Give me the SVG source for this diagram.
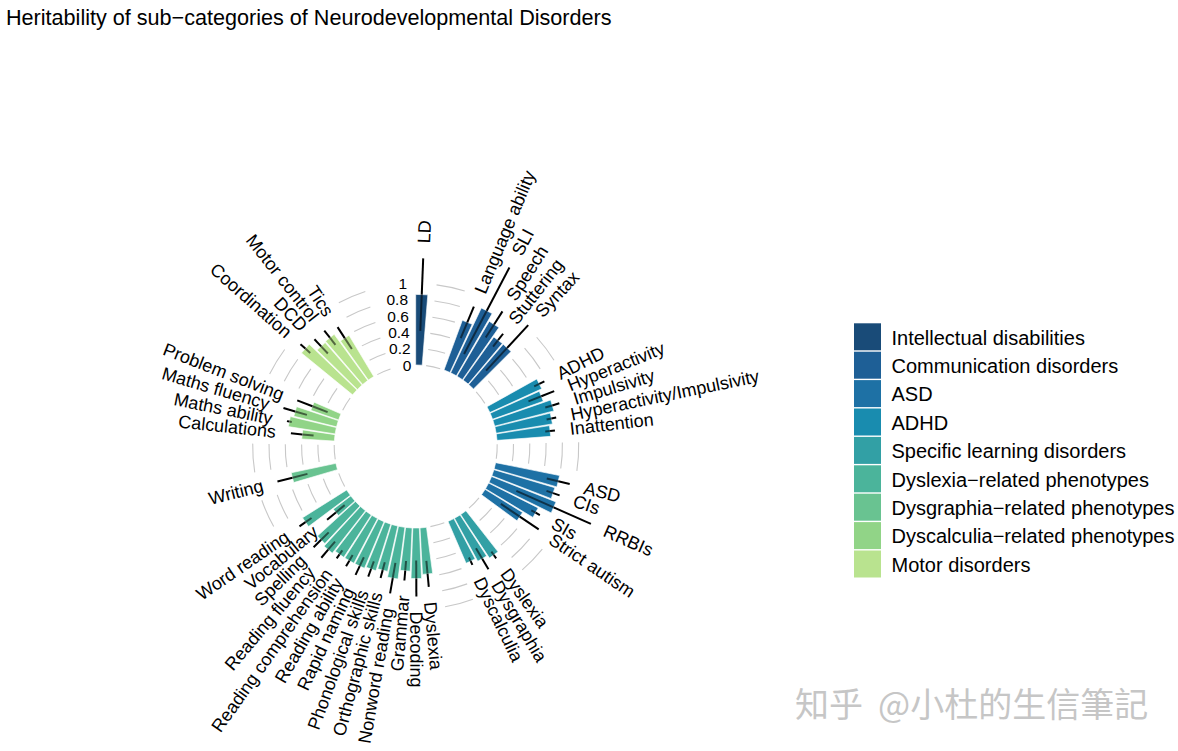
<svg xmlns="http://www.w3.org/2000/svg" width="1178" height="751" viewBox="0 0 1178 751">
<style>
text{font-family:"Liberation Sans",Arial,sans-serif;fill:#000}
.title{font-size:21.6px}
.lab{font-size:18px}
.ax{font-size:15.5px;text-anchor:end}
.leg{font-size:20px}
.bar{stroke:#fff;stroke-width:0.6}
.ei{stroke:#000;stroke-opacity:0.55;stroke-width:2;fill:none}
.eo{stroke:#000;stroke-width:2;fill:none}
.grid path{fill:none;stroke:#c8c8c8;stroke-width:1.1}
.c1{fill:#194b78}.c2{fill:#1e5f96}.c3{fill:#1e71a5}.c4{fill:#198caf}.c5{fill:#32a0a5}
.c6{fill:#4bb49b}.c7{fill:#69c391}.c8{fill:#91d487}.c9{fill:#b9e38f}
.wm{font-family:"Noto Sans CJK SC","Noto Sans CJK TC",sans-serif;font-size:34px;fill:#c6c6c6}
</style>
<defs>
<g id="garc" class="grid">
<path d="M0,-81.5 A81.5,81.5 0 0 1 14.349,-80.227"/>
<path d="M0,-97.8 A97.8,97.8 0 0 1 17.219,-96.272"/>
<path d="M0,-114.1 A114.1,114.1 0 0 1 20.088,-112.318"/>
<path d="M0,-130.4 A130.4,130.4 0 0 1 22.958,-128.363"/>
<path d="M0,-146.7 A146.7,146.7 0 0 1 25.828,-144.409"/>
<path d="M0,-163 A163,163 0 0 1 28.698,-160.454"/>
</g>
</defs>
<rect width="1178" height="751" fill="#fff"/>
<text class="title" x="6" y="24.5">Heritability of sub−categories of Neurodevelopmental Disorders</text>

<g id="gridlines">
<use href="#garc" transform="translate(415.7 446.5) rotate(7.3521)"/>
<use href="#garc" transform="translate(415.7 446.5) rotate(47.9155)"/>
<use href="#garc" transform="translate(415.7 446.5) rotate(88.4789)"/>
<use href="#garc" transform="translate(415.7 446.5) rotate(129.0423)"/>
<use href="#garc" transform="translate(415.7 446.5) rotate(159.4648)"/>
<use href="#garc" transform="translate(415.7 446.5) rotate(240.5916)"/>
<use href="#garc" transform="translate(415.7 446.5) rotate(260.8733)"/>
<use href="#garc" transform="translate(415.7 446.5) rotate(296.3662)"/>
<use href="#garc" transform="translate(415.7 446.5) rotate(331.8592)"/>
</g>

<g id="axis-labels">
<text class="ax" x="411.44" y="365.11" dy="0.35em">0</text>
<text class="ax" x="410.58" y="348.84" dy="0.35em">0.2</text>
<text class="ax" x="409.73" y="332.56" dy="0.35em">0.4</text>
<text class="ax" x="408.88" y="316.28" dy="0.35em">0.6</text>
<text class="ax" x="408.03" y="300.0" dy="0.35em">0.8</text>
<text class="ax" x="407.17" y="283.73" dy="0.35em">1</text>
</g>

<g id="bars">
<g id="bar-LD" transform="translate(415.7 446.5) rotate(2.2817)">
<polygon class="bar c1" points="-3.248,-81.5 -6.057,-152 6.057,-152 3.248,-81.5"/>
<path class="ei" d="M0,-115.73V-152"/><path class="eo" d="M0,-152V-188.27"/>
<text class="lab" transform="translate(0 -203.3) rotate(-90)" dy="0.35em">LD</text>
</g>

<g id="bar-language-ability" transform="translate(415.7 446.5) rotate(22.5634)">
<polygon class="bar c2" points="-3.248,-81.5 -5.359,-134.48 5.359,-134.48 3.248,-81.5"/>
<path class="ei" d="M0,-117.36V-134.48"/><path class="eo" d="M0,-134.48V-151.59"/>
<text class="lab" transform="translate(0 -166.6) rotate(-90)" dy="0.35em">Language ability</text>
</g>
<g id="bar-SLI" transform="translate(415.7 446.5) rotate(27.6338)">
<polygon class="bar c2" points="-3.248,-81.5 -6.106,-153.22 6.106,-153.22 3.248,-81.5"/>
<path class="ei" d="M0,-104.32V-153.22"/><path class="eo" d="M0,-153.22V-202.12"/>
<text class="lab" transform="translate(0 -217.1) rotate(-90)" dy="0.35em">SLI</text>
</g>
<g id="bar-speech" transform="translate(415.7 446.5) rotate(32.7042)">
<polygon class="bar c2" points="-3.248,-81.5 -5.781,-145.07 5.781,-145.07 3.248,-81.5"/>
<path class="ei" d="M0,-129.59V-145.07"/><path class="eo" d="M0,-145.07V-160.56"/>
<text class="lab" transform="translate(0 -175.6) rotate(-90)" dy="0.35em">Speech</text>
</g>
<g id="bar-stuttering" transform="translate(415.7 446.5) rotate(37.7746)">
<polygon class="bar c2" points="-3.248,-81.5 -5.359,-134.48 5.359,-134.48 3.248,-81.5"/>
<path class="ei" d="M0,-126.33V-134.48"/><path class="eo" d="M0,-134.48V-142.63"/>
<text class="lab" transform="translate(0 -157.6) rotate(-90)" dy="0.35em">Stuttering</text>
</g>
<g id="bar-syntax" transform="translate(415.7 446.5) rotate(42.8451)">
<polygon class="bar c2" points="-3.248,-81.5 -5.359,-134.48 5.359,-134.48 3.248,-81.5"/>
<path class="ei" d="M0,-103.51V-134.48"/><path class="eo" d="M0,-134.48V-165.45"/>
<text class="lab" transform="translate(0 -180.5) rotate(-90)" dy="0.35em">Syntax</text>
</g>

<g id="bar-ADHD" transform="translate(415.7 446.5) rotate(63.1268)">
<polygon class="bar c4" points="-3.248,-81.5 -5.521,-138.55 5.521,-138.55 3.248,-81.5"/>
<path class="ei" d="M0,-132.85V-138.55"/><path class="eo" d="M0,-138.55V-144.26"/>
<text class="lab" transform="translate(0 -159.3) rotate(-90)" dy="0.35em">ADHD</text>
</g>
<g id="bar-hyperactivity" transform="translate(415.7 446.5) rotate(68.1972)">
<polygon class="bar c4" points="-3.248,-81.5 -5.391,-135.29 5.391,-135.29 3.248,-81.5"/>
<path class="ei" d="M0,-121.44V-135.29"/><path class="eo" d="M0,-135.29V-149.15"/>
<text class="lab" transform="translate(0 -164.1) rotate(-90)" dy="0.35em">Hyperactivity</text>
</g>
<g id="bar-impulsivity" transform="translate(415.7 446.5) rotate(73.2676)">
<polygon class="bar c4" points="-3.248,-81.5 -5.684,-142.63 5.684,-142.63 3.248,-81.5"/>
<path class="ei" d="M0,-135.29V-142.63"/><path class="eo" d="M0,-142.63V-149.96"/>
<text class="lab" transform="translate(0 -165.0) rotate(-90)" dy="0.35em">Impulsivity</text>
</g>
<g id="bar-hyperactivity-impulsivity" transform="translate(415.7 446.5) rotate(78.338)">
<polygon class="bar c4" points="-3.248,-81.5 -5.521,-138.55 5.521,-138.55 3.248,-81.5"/>
<path class="ei" d="M0,-133.66V-138.55"/><path class="eo" d="M0,-138.55V-143.44"/>
<text class="lab" transform="translate(0 -158.4) rotate(-90)" dy="0.35em">Hyperactivity/Impulsivity</text>
</g>
<g id="bar-inattention" transform="translate(415.7 446.5) rotate(83.4085)">
<polygon class="bar c4" points="-3.248,-81.5 -5.391,-135.29 5.391,-135.29 3.248,-81.5"/>
<path class="ei" d="M0,-130.4V-135.29"/><path class="eo" d="M0,-135.29V-140.18"/>
<text class="lab" transform="translate(0 -155.2) rotate(-90)" dy="0.35em">Inattention</text>
</g>

<g id="bar-ASD" transform="translate(415.7 446.5) rotate(103.6901)">
<polygon class="bar c3" points="-3.248,-81.5 -5.846,-146.7 5.846,-146.7 3.248,-81.5"/>
<path class="ei" d="M0,-134.88V-146.7"/><path class="eo" d="M0,-146.7V-158.52"/>
<text class="lab" transform="translate(0 -173.5) rotate(-90)" dy="0.35em">ASD</text>
</g>
<g id="bar-CIs" transform="translate(415.7 446.5) rotate(108.7606)">
<polygon class="bar c3" points="-3.248,-81.5 -5.781,-145.07 5.781,-145.07 3.248,-81.5"/>
<path class="ei" d="M0,-138.14V-145.07"/><path class="eo" d="M0,-145.07V-152"/>
<text class="lab" transform="translate(0 -167.0) rotate(-90)" dy="0.35em">CIs</text>
</g>
<g id="bar-RRBIs" transform="translate(415.7 446.5) rotate(113.831)">
<polygon class="bar c3" points="-3.248,-81.5 -6.009,-150.78 6.009,-150.78 3.248,-81.5"/>
<path class="ei" d="M0,-110.03V-150.78"/><path class="eo" d="M0,-150.78V-191.53"/>
<text class="lab" transform="translate(0 -206.5) rotate(-90)" dy="0.35em">RRBIs</text>
</g>
<g id="bar-SIs" transform="translate(415.7 446.5) rotate(118.9014)">
<polygon class="bar c3" points="-3.248,-81.5 -5.456,-136.92 5.456,-136.92 3.248,-81.5"/>
<path class="ei" d="M0,-132.03V-136.92"/><path class="eo" d="M0,-136.92V-141.81"/>
<text class="lab" transform="translate(0 -156.8) rotate(-90)" dy="0.35em">SIs</text>
</g>
<g id="bar-strict-autism" transform="translate(415.7 446.5) rotate(123.9718)">
<polygon class="bar c3" points="-3.248,-81.5 -5.002,-125.51 5.002,-125.51 3.248,-81.5"/>
<path class="ei" d="M0,-102.69V-125.51"/><path class="eo" d="M0,-125.51V-148.33"/>
<text class="lab" transform="translate(0 -163.3) rotate(-90)" dy="0.35em">Strict autism</text>
</g>

<g id="bar-sld-dyslexia" transform="translate(415.7 446.5) rotate(144.2535)">
<polygon class="bar c5" points="-3.248,-81.5 -5.326,-133.66 5.326,-133.66 3.248,-81.5"/>
<path class="ei" d="M0,-129.59V-133.66"/><path class="eo" d="M0,-133.66V-137.74"/>
<text class="lab" transform="translate(0 -152.7) rotate(-90)" dy="0.35em">Dyslexia</text>
</g>
<g id="bar-sld-dysgraphia" transform="translate(415.7 446.5) rotate(149.3239)">
<polygon class="bar c5" points="-3.248,-81.5 -5.196,-130.4 5.196,-130.4 3.248,-81.5"/>
<path class="ei" d="M0,-118.18V-130.4"/><path class="eo" d="M0,-130.4V-142.63"/>
<text class="lab" transform="translate(0 -157.6) rotate(-90)" dy="0.35em">Dysgraphia</text>
</g>
<g id="bar-sld-dyscalculia" transform="translate(415.7 446.5) rotate(154.3944)">
<polygon class="bar c5" points="-3.248,-81.5 -5.067,-127.14 5.067,-127.14 3.248,-81.5"/>
<path class="ei" d="M0,-123.07V-127.14"/><path class="eo" d="M0,-127.14V-131.22"/>
<text class="lab" transform="translate(0 -146.2) rotate(-90)" dy="0.35em">Dyscalculia</text>
</g>

<g id="bar-dr-dyslexia" transform="translate(415.7 446.5) rotate(174.6761)">
<polygon class="bar c6" points="-3.248,-81.5 -5.099,-127.96 5.099,-127.96 3.248,-81.5"/>
<path class="ei" d="M0,-114.92V-127.96"/><path class="eo" d="M0,-127.96V-141"/>
<text class="lab" transform="translate(0 -156.0) rotate(-90)" dy="0.35em">Dyslexia</text>
</g>
<g id="bar-decoding" transform="translate(415.7 446.5) rotate(179.7465)">
<polygon class="bar c6" points="-3.248,-81.5 -5.261,-132.03 5.261,-132.03 3.248,-81.5"/>
<path class="ei" d="M0,-114.1V-132.03"/><path class="eo" d="M0,-132.03V-149.96"/>
<text class="lab" transform="translate(0 -165.0) rotate(-90)" dy="0.35em">Decoding</text>
</g>
<g id="bar-grammar" transform="translate(415.7 446.5) rotate(184.8169)">
<polygon class="bar c6" points="-3.248,-81.5 -4.969,-124.7 4.969,-124.7 3.248,-81.5"/>
<path class="ei" d="M0,-114.92V-124.7"/><path class="eo" d="M0,-124.7V-134.48"/>
<text class="lab" text-anchor="end" transform="translate(0 -149.5) rotate(90)" dy="0.35em">Grammar</text>
</g>
<g id="bar-nonword-reading" transform="translate(415.7 446.5) rotate(189.8873)">
<polygon class="bar c6" points="-3.248,-81.5 -5.326,-133.66 5.326,-133.66 3.248,-81.5"/>
<path class="ei" d="M0,-118.18V-133.66"/><path class="eo" d="M0,-133.66V-149.15"/>
<text class="lab" text-anchor="end" transform="translate(0 -164.1) rotate(90)" dy="0.35em">Nonword reading</text>
</g>
<g id="bar-orthographic-skills" transform="translate(415.7 446.5) rotate(194.9577)">
<polygon class="bar c6" points="-3.248,-81.5 -5.099,-127.96 5.099,-127.96 3.248,-81.5"/>
<path class="ei" d="M0,-119.81V-127.96"/><path class="eo" d="M0,-127.96V-136.11"/>
<text class="lab" text-anchor="end" transform="translate(0 -151.1) rotate(90)" dy="0.35em">Orthographic skills</text>
</g>
<g id="bar-phonological-skills" transform="translate(415.7 446.5) rotate(200.0282)">
<polygon class="bar c6" points="-3.248,-81.5 -5.196,-130.4 5.196,-130.4 3.248,-81.5"/>
<path class="ei" d="M0,-122.25V-130.4"/><path class="eo" d="M0,-130.4V-138.55"/>
<text class="lab" text-anchor="end" transform="translate(0 -153.5) rotate(90)" dy="0.35em">Phonological skills</text>
</g>
<g id="bar-rapid-naming" transform="translate(415.7 446.5) rotate(205.0986)">
<polygon class="bar c6" points="-3.248,-81.5 -5.261,-132.03 5.261,-132.03 3.248,-81.5"/>
<path class="ei" d="M0,-122.25V-132.03"/><path class="eo" d="M0,-132.03V-141.81"/>
<text class="lab" text-anchor="end" transform="translate(0 -156.8) rotate(90)" dy="0.35em">Rapid naming</text>
</g>
<g id="bar-reading-ability" transform="translate(415.7 446.5) rotate(210.169)">
<polygon class="bar c6" points="-3.248,-81.5 -5.261,-132.03 5.261,-132.03 3.248,-81.5"/>
<path class="ei" d="M0,-125.51V-132.03"/><path class="eo" d="M0,-132.03V-138.55"/>
<text class="lab" text-anchor="end" transform="translate(0 -153.5) rotate(90)" dy="0.35em">Reading ability</text>
</g>
<g id="bar-reading-comprehension" transform="translate(415.7 446.5) rotate(215.2394)">
<polygon class="bar c6" points="-3.248,-81.5 -5.261,-132.03 5.261,-132.03 3.248,-81.5"/>
<path class="ei" d="M0,-127.14V-132.03"/><path class="eo" d="M0,-132.03V-136.92"/>
<text class="lab" text-anchor="end" transform="translate(0 -151.9) rotate(90)" dy="0.35em">Reading comprehension</text>
</g>
<g id="bar-reading-fluency" transform="translate(415.7 446.5) rotate(220.3099)">
<polygon class="bar c6" points="-3.248,-81.5 -5.391,-135.29 5.391,-135.29 3.248,-81.5"/>
<path class="ei" d="M0,-124.7V-135.29"/><path class="eo" d="M0,-135.29V-145.89"/>
<text class="lab" text-anchor="end" transform="translate(0 -160.9) rotate(90)" dy="0.35em">Reading fluency</text>
</g>
<g id="bar-spelling" transform="translate(415.7 446.5) rotate(225.3803)">
<polygon class="bar c6" points="-3.248,-81.5 -5.294,-132.85 5.294,-132.85 3.248,-81.5"/>
<path class="ei" d="M0,-122.25V-132.85"/><path class="eo" d="M0,-132.85V-143.44"/>
<text class="lab" text-anchor="end" transform="translate(0 -158.4) rotate(90)" dy="0.35em">Spelling</text>
</g>
<g id="bar-vocabulary" transform="translate(415.7 446.5) rotate(230.4507)">
<polygon class="bar c6" points="-3.248,-81.5 -4.125,-103.51 4.125,-103.51 3.248,-81.5"/>
<path class="ei" d="M0,-92.1V-103.51"/><path class="eo" d="M0,-103.51V-114.92"/>
<text class="lab" text-anchor="end" transform="translate(0 -129.9) rotate(90)" dy="0.35em">Vocabulary</text>
</g>
<g id="bar-word-reading" transform="translate(415.7 446.5) rotate(235.5211)">
<polygon class="bar c6" points="-3.248,-81.5 -5.326,-133.66 5.326,-133.66 3.248,-81.5"/>
<path class="ei" d="M0,-126.33V-133.66"/><path class="eo" d="M0,-133.66V-141"/>
<text class="lab" text-anchor="end" transform="translate(0 -156.0) rotate(90)" dy="0.35em">Word reading</text>
</g>

<g id="bar-writing" transform="translate(415.7 446.5) rotate(255.8028)">
<polygon class="bar c7" points="-3.248,-81.5 -5.067,-127.14 5.067,-127.14 3.248,-81.5"/>
<path class="ei" d="M0,-111.66V-127.14"/><path class="eo" d="M0,-127.14V-142.63"/>
<text class="lab" text-anchor="end" transform="translate(0 -157.6) rotate(90)" dy="0.35em">Writing</text>
</g>

<g id="bar-calculations" transform="translate(415.7 446.5) rotate(276.0845)">
<polygon class="bar c8" points="-3.248,-81.5 -4.547,-114.1 4.547,-114.1 3.248,-81.5"/>
<path class="ei" d="M0,-102.69V-114.1"/><path class="eo" d="M0,-114.1V-125.51"/>
<text class="lab" text-anchor="end" transform="translate(0 -140.5) rotate(90)" dy="0.35em">Calculations</text>
</g>
<g id="bar-maths-ability" transform="translate(415.7 446.5) rotate(281.1549)">
<polygon class="bar c8" points="-3.248,-81.5 -5.131,-128.77 5.131,-128.77 3.248,-81.5"/>
<path class="ei" d="M0,-126.33V-128.77"/><path class="eo" d="M0,-128.77V-131.22"/>
<text class="lab" text-anchor="end" transform="translate(0 -146.2) rotate(90)" dy="0.35em">Maths ability</text>
</g>
<g id="bar-maths-fluency" transform="translate(415.7 446.5) rotate(286.2254)">
<polygon class="bar c8" points="-3.248,-81.5 -5.002,-125.51 5.002,-125.51 3.248,-81.5"/>
<path class="ei" d="M0,-113.29V-125.51"/><path class="eo" d="M0,-125.51V-137.74"/>
<text class="lab" text-anchor="end" transform="translate(0 -152.7) rotate(90)" dy="0.35em">Maths fluency</text>
</g>
<g id="bar-problem-solving" transform="translate(415.7 446.5) rotate(291.2958)">
<polygon class="bar c8" points="-3.248,-81.5 -4.417,-110.84 4.417,-110.84 3.248,-81.5"/>
<path class="ei" d="M0,-94.54V-110.84"/><path class="eo" d="M0,-110.84V-127.14"/>
<text class="lab" text-anchor="end" transform="translate(0 -142.1) rotate(90)" dy="0.35em">Problem solving</text>
</g>

<g id="bar-coordination" transform="translate(415.7 446.5) rotate(311.5775)">
<polygon class="bar c9" points="-3.248,-81.5 -5.879,-147.52 5.879,-147.52 3.248,-81.5"/>
<path class="ei" d="M0,-141V-147.52"/><path class="eo" d="M0,-147.52V-154.04"/>
<text class="lab" text-anchor="end" transform="translate(0 -169.0) rotate(90)" dy="0.35em">Coordination</text>
</g>
<g id="bar-DCD" transform="translate(415.7 446.5) rotate(316.6479)">
<polygon class="bar c9" points="-3.248,-81.5 -5.489,-137.74 5.489,-137.74 3.248,-81.5"/>
<path class="ei" d="M0,-127.96V-137.74"/><path class="eo" d="M0,-137.74V-147.52"/>
<text class="lab" text-anchor="end" transform="translate(0 -162.5) rotate(90)" dy="0.35em">DCD</text>
</g>
<g id="bar-motor-control" transform="translate(415.7 446.5) rotate(321.7183)">
<polygon class="bar c9" points="-3.248,-81.5 -5.521,-138.55 5.521,-138.55 3.248,-81.5"/>
<path class="ei" d="M0,-129.59V-138.55"/><path class="eo" d="M0,-138.55V-147.52"/>
<text class="lab" text-anchor="end" transform="translate(0 -162.5) rotate(90)" dy="0.35em">Motor control</text>
</g>
<g id="bar-tics" transform="translate(415.7 446.5) rotate(326.7887)">
<polygon class="bar c9" points="-3.248,-81.5 -5.164,-129.59 5.164,-129.59 3.248,-81.5"/>
<path class="ei" d="M0,-116.55V-129.59"/><path class="eo" d="M0,-129.59V-142.63"/>
<text class="lab" text-anchor="end" transform="translate(0 -157.6) rotate(90)" dy="0.35em">Tics</text>
</g>
</g>

<g id="legend">
<rect class="c1" x="854" y="323.3" width="27" height="27"/>
<rect class="c2" x="854" y="351.7" width="27" height="27"/>
<rect class="c3" x="854" y="380.1" width="27" height="27"/>
<rect class="c4" x="854" y="408.5" width="27" height="27"/>
<rect class="c5" x="854" y="436.9" width="27" height="27"/>
<rect class="c6" x="854" y="465.3" width="27" height="27"/>
<rect class="c7" x="854" y="493.7" width="27" height="27"/>
<rect class="c8" x="854" y="522.1" width="27" height="27"/>
<rect class="c9" x="854" y="550.5" width="27" height="27"/>
<text class="leg" x="891.5" y="337.5" dy="0.35em">Intellectual disabilities</text>
<text class="leg" x="891.5" y="365.9" dy="0.35em">Communication disorders</text>
<text class="leg" x="891.5" y="394.3" dy="0.35em">ASD</text>
<text class="leg" x="891.5" y="422.7" dy="0.35em">ADHD</text>
<text class="leg" x="891.5" y="451.1" dy="0.35em">Specific learning disorders</text>
<text class="leg" x="891.5" y="479.5" dy="0.35em">Dyslexia−related phenotypes</text>
<text class="leg" x="891.5" y="507.9" dy="0.35em">Dysgraphia−related phenotypes</text>
<text class="leg" x="891.5" y="536.3" dy="0.35em">Dyscalculia−related phenotypes</text>
<text class="leg" x="891.5" y="564.7" dy="0.35em">Motor disorders</text>
</g>

<g id="watermark">
<text class="wm" x="795" y="717">知乎</text>
<text class="wm" x="878" y="717">@小杜的生信筆記</text>
</g>
</svg>
